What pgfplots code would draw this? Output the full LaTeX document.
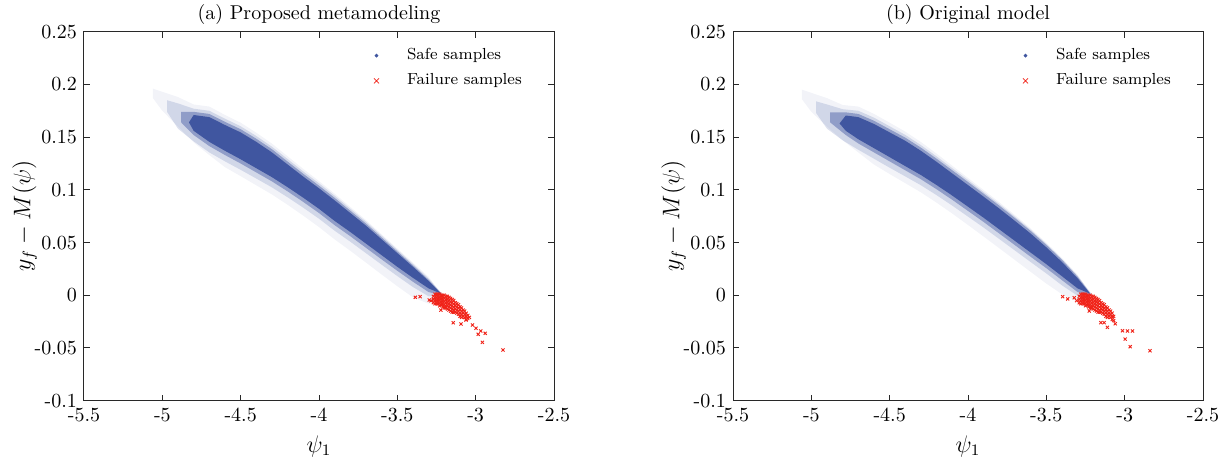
\documentclass[border=0pt]{standalone}
\usepackage{pgfplots}
\pgfplotsset{compat=1.18}
\definecolor{bandblue}{RGB}{64,86,160}
\definecolor{failred}{RGB}{240,35,25}
\definecolor{axgray}{RGB}{40,40,40}
\pgfplotsset{
  myaxis/.style={
    scale only axis, width=235pt, height=184.5pt,
    xmin=-5.5, xmax=-2.5, ymin=-0.1, ymax=0.25,
    xtick={-5.5,-5,-4.5,-4,-3.5,-3,-2.5},
    xticklabels={-5.5,-5,-4.5,-4,-3.5,-3,-2.5},
    ytick={-0.1,-0.05,0,0.05,0.1,0.15,0.2,0.25},
    yticklabels={-0.1,-0.05,0,0.05,0.1,0.15,0.2,0.25},
    tick align=inside, major tick length=3pt,
    axis line style={axgray, line width=0.5pt},
    tick style={axgray, line width=0.5pt},
    xlabel={$\psi_1$}, ylabel={$y_f - M(\psi)$},
    label style={font=\large},
    ylabel shift=-8pt,
    title style={yshift=-6pt},
    legend style={draw=none, fill=none, font=\footnotesize,
      at={(axis cs:-3.69,0.242)}, anchor=north west, row sep=1.5pt,
      /tikz/every odd column/.append style={column sep=12pt}},
    legend cell align=left,
  },
  l1/.style={fill=bandblue, draw=none, fill opacity=0.07, forget plot},
  l2/.style={fill=bandblue, draw=none, fill opacity=0.18, forget plot},
  l3/.style={fill=bandblue, draw=none, fill opacity=0.45, forget plot},
  core/.style={fill=bandblue, draw=none, forget plot},
  fail/.style={only marks, mark=x, mark size=1.1pt, color=failred, mark options={line width=0.45pt}, forget plot},
}
\begin{document}
\begin{tikzpicture}
\useasboundingbox (-42pt,-30.65pt) rectangle (571pt,200.35pt);
% ---------------- (a) ----------------
\begin{axis}[myaxis, title={(a) Proposed metamodeling}]
\addlegendimage{only marks, mark=*, mark size=0.7pt, color=bandblue}
\addlegendentry{Safe samples}
\addlegendimage{only marks, mark=x, mark size=1.8pt, color=failred, mark options={line width=0.4pt}}
\addlegendentry{Failure samples}
\addplot[l1] coordinates {
(-5.06,0.1960) (-5.00,0.1930) (-4.90,0.1880) (-4.80,0.1810) (-4.70,0.1790) (-4.60,0.1710)
(-4.50,0.1637) (-4.40,0.1542) (-4.30,0.1438) (-4.20,0.1318) (-4.10,0.1198) (-4.00,0.1083)
(-3.90,0.0963) (-3.80,0.0838) (-3.70,0.0713) (-3.60,0.0578) (-3.50,0.0443) (-3.40,0.0310)
(-3.30,0.0175) (-3.20,-0.0030)
(-3.30,-0.0080) (-3.40,-0.0020) (-3.50,0.0086) (-3.60,0.0197) (-3.70,0.0310) (-3.80,0.0422)
(-3.90,0.0530) (-4.00,0.0647) (-4.10,0.0755) (-4.20,0.0858) (-4.30,0.0956) (-4.40,0.1043)
(-4.50,0.1130) (-4.60,0.1215) (-4.70,0.1330) (-4.80,0.1450) (-4.90,0.1600) (-5.00,0.1750)
(-5.06,0.1870)};
\addplot[l2] coordinates {
(-4.97,0.1850) (-4.90,0.1820) (-4.80,0.1770) (-4.70,0.1750) (-4.60,0.1675) (-4.50,0.1603)
(-4.40,0.1511) (-4.30,0.1409) (-4.20,0.1292) (-4.10,0.1174) (-4.00,0.1062) (-3.90,0.0944)
(-3.80,0.0821) (-3.70,0.0698) (-3.60,0.0565) (-3.50,0.0431) (-3.40,0.0297) (-3.30,0.0160)
(-3.20,-0.0010)
(-3.30,-0.0010) (-3.40,0.0078) (-3.50,0.0182) (-3.60,0.0290) (-3.70,0.0399) (-3.80,0.0508)
(-3.90,0.0612) (-4.00,0.0726) (-4.10,0.0830) (-4.20,0.0929) (-4.30,0.1023) (-4.40,0.1107)
(-4.50,0.1190) (-4.60,0.1270) (-4.70,0.1355) (-4.80,0.1460) (-4.90,0.1580) (-4.97,0.1740)};
\addplot[l3] coordinates {
(-4.88,0.1740) (-4.80,0.1740) (-4.70,0.1720) (-4.60,0.1645) (-4.50,0.1575) (-4.40,0.1485)
(-4.30,0.1385) (-4.20,0.1268) (-4.10,0.1152) (-4.00,0.1040) (-3.90,0.0924) (-3.80,0.0802)
(-3.70,0.0680) (-3.60,0.0548) (-3.50,0.0416) (-3.40,0.0284) (-3.30,0.0147) (-3.21,0.0000)
(-3.30,0.0030) (-3.40,0.0128) (-3.50,0.0232) (-3.60,0.0340) (-3.70,0.0450) (-3.80,0.0560)
(-3.90,0.0665) (-4.00,0.0780) (-4.10,0.0885) (-4.20,0.0985) (-4.30,0.1080) (-4.40,0.1165)
(-4.50,0.1250) (-4.60,0.1330) (-4.70,0.1415) (-4.80,0.1520) (-4.88,0.1640)};
\addplot[core] coordinates {
(-4.83,0.1640) (-4.80,0.1710) (-4.70,0.1690) (-4.60,0.1615) (-4.50,0.1545) (-4.40,0.1455)
(-4.30,0.1355) (-4.20,0.1240) (-4.10,0.1125) (-4.00,0.1015) (-3.90,0.0900) (-3.80,0.0780)
(-3.70,0.0660) (-3.60,0.0530) (-3.50,0.0400) (-3.40,0.0270) (-3.30,0.0135) (-3.22,0.0015)
(-3.30,0.0065) (-3.40,0.0165) (-3.50,0.0270) (-3.60,0.0380) (-3.70,0.0490) (-3.80,0.0600)
(-3.90,0.0705) (-4.00,0.0820) (-4.10,0.0925) (-4.20,0.1025) (-4.30,0.1120) (-4.40,0.1205)
(-4.50,0.1290) (-4.60,0.1370) (-4.70,0.1455) (-4.80,0.1560)};
\addplot[fail] coordinates {
(-3.27,-0.001) (-3.27,-0.004) (-3.27,-0.007)
(-3.26,0.001) (-3.26,-0.002) (-3.26,-0.005) (-3.26,-0.008)
(-3.25,0.001) (-3.25,-0.002) (-3.25,-0.005) (-3.25,-0.008)
(-3.24,0.001) (-3.24,-0.002) (-3.24,-0.005) (-3.24,-0.008)
(-3.23,0.001) (-3.23,-0.002) (-3.23,-0.005) (-3.23,-0.008) (-3.23,-0.010)
(-3.22,0.000) (-3.22,-0.003) (-3.22,-0.006) (-3.22,-0.009)
(-3.21,0.000) (-3.21,-0.003) (-3.21,-0.006) (-3.21,-0.009) (-3.21,-0.011)
(-3.20,0.000) (-3.20,-0.003) (-3.20,-0.006) (-3.20,-0.009) (-3.20,-0.012)
(-3.19,-0.001) (-3.19,-0.004) (-3.19,-0.007) (-3.19,-0.010) (-3.19,-0.012)
(-3.18,-0.001) (-3.18,-0.004) (-3.18,-0.007) (-3.18,-0.010) (-3.18,-0.013)
(-3.17,-0.002) (-3.17,-0.005) (-3.17,-0.008) (-3.17,-0.011) (-3.17,-0.014)
(-3.16,-0.003) (-3.16,-0.006) (-3.16,-0.009) (-3.16,-0.012) (-3.16,-0.015)
(-3.15,-0.004) (-3.15,-0.007) (-3.15,-0.010) (-3.15,-0.013) (-3.15,-0.016)
(-3.14,-0.005) (-3.14,-0.008) (-3.14,-0.011) (-3.14,-0.014) (-3.14,-0.016)
(-3.13,-0.007) (-3.13,-0.010) (-3.13,-0.013) (-3.13,-0.016)
(-3.12,-0.008) (-3.12,-0.011) (-3.12,-0.014) (-3.12,-0.017)
(-3.11,-0.009) (-3.11,-0.012) (-3.11,-0.015) (-3.11,-0.018)
(-3.10,-0.011) (-3.10,-0.014) (-3.10,-0.017) (-3.10,-0.020)
(-3.09,-0.012) (-3.09,-0.015) (-3.09,-0.018) (-3.09,-0.021)
(-3.08,-0.014) (-3.08,-0.017) (-3.08,-0.020)
(-3.07,-0.015) (-3.07,-0.018) (-3.07,-0.021)
(-3.06,-0.017) (-3.06,-0.020) (-3.06,-0.023)
(-3.05,-0.019) (-3.05,-0.022) (-3.04,-0.021)
(-3.385,-0.0019) (-3.355,-0.0013) (-3.296,-0.0045) (-3.285,-0.0051) (-3.222,-0.0140)
(-3.143,-0.0260) (-3.094,-0.0272) (-3.062,-0.0234) (-3.020,-0.0282) (-2.998,-0.0313)
(-2.967,-0.0339) (-2.939,-0.0361) (-2.984,-0.0370) (-2.957,-0.0446) (-2.825,-0.0519)};
\end{axis}
% ---------------- (b) ----------------
\begin{axis}[myaxis, at={(324.5pt,0pt)}, title={(b) Original model}]
\addlegendimage{only marks, mark=*, mark size=0.7pt, color=bandblue}
\addlegendentry{Safe samples}
\addlegendimage{only marks, mark=x, mark size=1.8pt, color=failred, mark options={line width=0.4pt}}
\addlegendentry{Failure samples}
\addplot[l1] coordinates {
(-5.06,0.1950) (-5.00,0.1920) (-4.90,0.1870) (-4.80,0.1805) (-4.70,0.1790) (-4.60,0.1720)
(-4.50,0.1637) (-4.40,0.1552) (-4.30,0.1453) (-4.20,0.1343) (-4.10,0.1228) (-4.00,0.1113)
(-3.90,0.0998) (-3.80,0.0882) (-3.70,0.0760) (-3.60,0.0635) (-3.50,0.0499) (-3.40,0.0353)
(-3.30,0.0195) (-3.20,-0.0030)
(-3.30,-0.0060) (-3.40,0.0010) (-3.50,0.0111) (-3.60,0.0222) (-3.70,0.0334) (-3.80,0.0446)
(-3.90,0.0557) (-4.00,0.0667) (-4.10,0.0775) (-4.20,0.0878) (-4.30,0.0976) (-4.40,0.1063)
(-4.50,0.1150) (-4.60,0.1240) (-4.70,0.1355) (-4.80,0.1470) (-4.90,0.1600) (-5.00,0.1740)
(-5.06,0.1860)};
\addplot[l2] coordinates {
(-4.97,0.1840) (-4.90,0.1810) (-4.80,0.1765) (-4.70,0.1750) (-4.60,0.1685) (-4.50,0.1603)
(-4.40,0.1521) (-4.30,0.1424) (-4.20,0.1317) (-4.10,0.1205) (-4.00,0.1093) (-3.90,0.0979)
(-3.80,0.0865) (-3.70,0.0745) (-3.60,0.0622) (-3.50,0.0488) (-3.40,0.0344) (-3.30,0.0185)
(-3.20,-0.0010)
(-3.30,-0.0005) (-3.40,0.0094) (-3.50,0.0207) (-3.60,0.0315) (-3.70,0.0424) (-3.80,0.0533)
(-3.90,0.0642) (-4.00,0.0746) (-4.10,0.0850) (-4.20,0.0949) (-4.30,0.1043) (-4.40,0.1127)
(-4.50,0.1210) (-4.60,0.1295) (-4.70,0.1380) (-4.80,0.1470) (-4.90,0.1580) (-4.97,0.1730)};
\addplot[l3] coordinates {
(-4.88,0.1735) (-4.78,0.1735) (-4.70,0.1720) (-4.60,0.1655) (-4.50,0.1575) (-4.40,0.1495)
(-4.30,0.1400) (-4.20,0.1295) (-4.10,0.1185) (-4.00,0.1075) (-3.90,0.0963) (-3.80,0.0850)
(-3.70,0.0732) (-3.60,0.0610) (-3.50,0.0478) (-3.40,0.0336) (-3.30,0.0175) (-3.21,0.0000)
(-3.30,0.0030) (-3.40,0.0143) (-3.50,0.0257) (-3.60,0.0365) (-3.70,0.0475) (-3.80,0.0585)
(-3.90,0.0695) (-4.00,0.0800) (-4.10,0.0905) (-4.20,0.1005) (-4.30,0.1100) (-4.40,0.1185)
(-4.50,0.1270) (-4.60,0.1355) (-4.70,0.1440) (-4.78,0.1520) (-4.88,0.1640)};
\addplot[core] coordinates {
(-4.82,0.1630) (-4.78,0.1705) (-4.70,0.1690) (-4.60,0.1625) (-4.50,0.1545) (-4.40,0.1465)
(-4.30,0.1370) (-4.20,0.1265) (-4.10,0.1155) (-4.00,0.1045) (-3.90,0.0935) (-3.80,0.0822)
(-3.70,0.0705) (-3.60,0.0585) (-3.50,0.0455) (-3.40,0.0315) (-3.30,0.0160) (-3.22,0.0015)
(-3.30,0.0065) (-3.40,0.0180) (-3.50,0.0295) (-3.60,0.0405) (-3.70,0.0515) (-3.80,0.0625)
(-3.90,0.0735) (-4.00,0.0840) (-4.10,0.0945) (-4.20,0.1045) (-4.30,0.1140) (-4.40,0.1225)
(-4.50,0.1310) (-4.60,0.1395) (-4.70,0.1480) (-4.78,0.1560)};
\addplot[fail] coordinates {
(-3.29,-0.001) (-3.29,-0.004) (-3.29,-0.007)
(-3.28,0.001) (-3.28,-0.002) (-3.28,-0.005) (-3.28,-0.008)
(-3.27,0.001) (-3.27,-0.002) (-3.27,-0.005) (-3.27,-0.008)
(-3.26,0.001) (-3.26,-0.002) (-3.26,-0.005) (-3.26,-0.008)
(-3.25,0.001) (-3.25,-0.002) (-3.25,-0.005) (-3.25,-0.008) (-3.25,-0.010)
(-3.24,0.000) (-3.24,-0.003) (-3.24,-0.006) (-3.24,-0.009)
(-3.23,0.000) (-3.23,-0.003) (-3.23,-0.006) (-3.23,-0.009) (-3.23,-0.011)
(-3.22,0.000) (-3.22,-0.003) (-3.22,-0.006) (-3.22,-0.009) (-3.22,-0.012)
(-3.21,-0.001) (-3.21,-0.004) (-3.21,-0.007) (-3.21,-0.010) (-3.21,-0.012)
(-3.20,-0.001) (-3.20,-0.004) (-3.20,-0.007) (-3.20,-0.010) (-3.20,-0.013)
(-3.19,-0.002) (-3.19,-0.005) (-3.19,-0.008) (-3.19,-0.011) (-3.19,-0.014)
(-3.18,-0.003) (-3.18,-0.006) (-3.18,-0.009) (-3.18,-0.012) (-3.18,-0.015)
(-3.17,-0.004) (-3.17,-0.007) (-3.17,-0.010) (-3.17,-0.013) (-3.17,-0.016)
(-3.16,-0.005) (-3.16,-0.008) (-3.16,-0.011) (-3.16,-0.014) (-3.16,-0.016)
(-3.15,-0.007) (-3.15,-0.010) (-3.15,-0.013) (-3.15,-0.016)
(-3.14,-0.008) (-3.14,-0.011) (-3.14,-0.014) (-3.14,-0.017)
(-3.13,-0.009) (-3.13,-0.012) (-3.13,-0.015) (-3.13,-0.018)
(-3.12,-0.011) (-3.12,-0.014) (-3.12,-0.017) (-3.12,-0.020)
(-3.11,-0.012) (-3.11,-0.015) (-3.11,-0.018) (-3.11,-0.021)
(-3.10,-0.014) (-3.10,-0.017) (-3.10,-0.020)
(-3.09,-0.015) (-3.09,-0.018) (-3.09,-0.021)
(-3.08,-0.017) (-3.08,-0.020) (-3.08,-0.023)
(-3.07,-0.020) (-3.07,-0.024) (-3.06,-0.027)
(-3.396,-0.0013) (-3.364,-0.0035) (-3.322,-0.0023) (-3.307,-0.0051) (-3.226,-0.0149)
(-3.152,-0.0260) (-3.131,-0.0260) (-3.110,-0.0304) (-3.014,-0.0336) (-2.982,-0.0339)
(-2.950,-0.0339) (-2.997,-0.0415) (-2.965,-0.0488) (-2.838,-0.0526)};
\end{axis}
\end{tikzpicture}
\end{document}
